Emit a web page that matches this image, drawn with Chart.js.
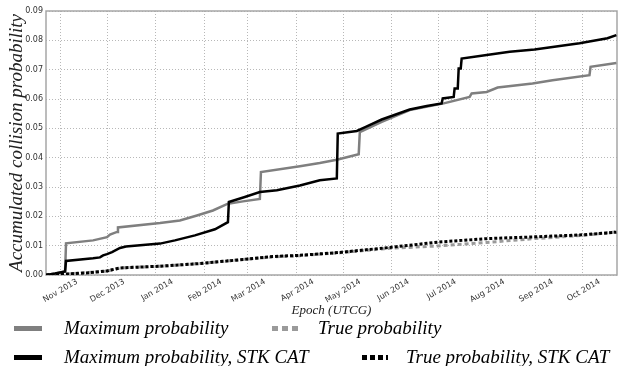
<!DOCTYPE html>
<html>
<head>
<meta charset="utf-8">
<script src="https://cdn.jsdelivr.net/npm/chart.js@4.4.0/dist/chart.umd.min.js"></script>
<style>
    html, body { margin: 0; padding: 0; background: #fff; }
    #wrap { position: relative; width: 625px; height: 366px; }
    #legend {
        position: absolute; left: 0; top: 0; width: 625px; height: 366px;
        font-family: "Liberation Serif", serif; font-style: italic; font-size: 19px; color: #000;
    }
    .label { position: absolute; white-space: nowrap; line-height: 20px; }
    .swatch { position: absolute; height: 5px; }
</style>
</head>
<body>
<div id="wrap">
    <canvas id="probChart" width="625" height="366"></canvas>
    <div id="legend">
        <span class="swatch" style="left:14px;top:326px;width:28px;background:#7f7f7f"></span>
        <span class="label" style="left:64px;top:318px">Maximum probability</span>
        <span class="swatch" style="left:272px;top:326px;width:26px;background:repeating-linear-gradient(90deg,#9a9a9a 0 6px,transparent 6px 10px)"></span>
        <span class="label" style="left:318px;top:318px">True probability</span>
        <span class="swatch" style="left:14px;top:355px;width:28px;background:#000"></span>
        <span class="label" style="left:64px;top:347px">Maximum probability, STK CAT</span>
        <span class="swatch" style="left:362px;top:355px;width:26px;background:repeating-linear-gradient(90deg,#000 0 5px,transparent 5px 8px)"></span>
        <span class="label" style="left:406px;top:347px">True probability, STK CAT</span>
    </div>
</div>
<script>
// x values are days counted from 1 Nov 2013
const tickDays = [0, 30, 61, 92, 120, 151, 181, 212, 242, 273, 304, 334];
const tickLabels = ['Nov 2013', 'Dec 2013', 'Jan 2014', 'Feb 2014', 'Mar 2014', 'Apr 2014',
    'May 2014', 'Jun 2014', 'Jul 2014', 'Aug 2014', 'Sep 2014', 'Oct 2014'];

// Maximum probability
const maxDays = [-9, -3.2, 3.2, 3.8, 21.1, 30.0, 31.9, 36.4, 37.0, 63.9, 76.6, 87.5, 97.7, 107.3,
    116.9, 127.7, 128.4, 153.3, 166.0, 176.9, 190.9, 191.6, 205.6, 223.5, 245.2, 261.8, 263.1,
    272.7, 279.7, 302.0, 314.8, 338.4, 339.1, 355.6];
const maxVals = [0, 0.0005, 0.0012, 0.0108, 0.0118, 0.0129, 0.0138, 0.0147, 0.0162, 0.0177, 0.0186,
    0.0203, 0.022, 0.0243, 0.0251, 0.0259, 0.0351, 0.0371, 0.0382, 0.0393, 0.0412, 0.0487, 0.0522,
    0.0562, 0.0585, 0.0607, 0.0619, 0.0624, 0.0639, 0.0653, 0.0664, 0.0681, 0.071, 0.0723];

// Maximum probability, STK CAT
const catMaxDays = [-9, -3.2, 3.2, 3.8, 21.1, 25.5, 27.5, 30.0, 33.2, 38.3, 42.1, 63.9, 73.4, 86.2,
    99.0, 107.3, 107.9, 118.1, 127.7, 138.6, 153.3, 166.0, 176.9, 177.5, 189.7, 195.4, 205.6, 223.5,
    234.4, 243.9, 244.6, 251.6, 252.2, 254.2, 254.8, 256.1, 256.7, 272.7, 287.4, 303.3, 332.1, 349.9, 355.6];
const catMaxVals = [0, 0.0005, 0.0012, 0.0048, 0.0057, 0.006, 0.0067, 0.0071, 0.0078, 0.0092, 0.0097,
    0.0107, 0.0118, 0.0135, 0.0156, 0.018, 0.0249, 0.0266, 0.0283, 0.0289, 0.0305, 0.0323, 0.0329,
    0.0482, 0.0491, 0.0505, 0.053, 0.0564, 0.0576, 0.0585, 0.0602, 0.0607, 0.0636, 0.0636, 0.0704,
    0.0704, 0.0738, 0.075, 0.0761, 0.0769, 0.079, 0.0807, 0.0818];

// True probability
const trueDays = [-9, 3.2, 30.0, 38.3, 63.9, 89.4, 114.9, 136.0, 153.3, 178.8, 210.7, 241.4, 272.7,
    303.3, 334.0, 355.6];
const trueVals = [0, 0.0003, 0.0013, 0.0024, 0.003, 0.0039, 0.0052, 0.0062, 0.0066, 0.0076, 0.0091,
    0.0099, 0.0111, 0.0124, 0.0135, 0.0147];

// True probability, STK CAT
const catTrueDays = [-9, 3.2, 19.2, 30.0, 38.3, 63.9, 89.4, 114.9, 136.0, 153.3, 178.8, 210.7, 241.4,
    272.7, 303.3, 334.0, 355.6];
const catTrueVals = [0, 0.0003, 0.0008, 0.0014, 0.0024, 0.003, 0.0039, 0.0052, 0.0063, 0.0067, 0.0077,
    0.0094, 0.0112, 0.0124, 0.013, 0.0137, 0.0146];

const tickFont = { family: 'DejaVu Sans', size: 8 };
const gridColor = '#b8b8b8';

document.addEventListener('DOMContentLoaded', function () {
    drawChart();
});

/**
 * Pair day and value arrays into points
 */
function toPoints(days, vals) {
    return days.map((d, i) => ({ x: d, y: vals[i] }));
}

/**
 * Light grey box round the plot area
 */
const framePlugin = {
    id: 'frame',
    beforeDatasetsDraw(chart) {
        const { ctx, chartArea: a } = chart;
        ctx.save();
        ctx.strokeStyle = '#a6a6a6';
        ctx.lineWidth = 1.5;
        ctx.strokeRect(a.left, a.top, a.right - a.left, a.bottom - a.top);
        ctx.restore();
    }
};

function drawChart() {
    const ctx = document.getElementById('probChart').getContext('2d');
    new Chart(ctx, {
        type: 'line',
        data: {
            datasets: [
                {
                    label: 'Maximum probability',
                    data: toPoints(maxDays, maxVals),
                    borderColor: '#7f7f7f',
                    borderWidth: 2.5,
                    order: 2
                },
                {
                    label: 'True probability',
                    data: toPoints(trueDays, trueVals),
                    borderColor: '#9a9a9a',
                    borderWidth: 3,
                    borderDash: [4, 3],
                    order: 2
                },
                {
                    label: 'Maximum probability, STK CAT',
                    data: toPoints(catMaxDays, catMaxVals),
                    borderColor: '#000',
                    borderWidth: 2.5,
                    order: 1
                },
                {
                    label: 'True probability, STK CAT',
                    data: toPoints(catTrueDays, catTrueVals),
                    borderColor: '#000',
                    borderWidth: 3,
                    borderDash: [3, 2],
                    order: 1
                }
            ]
        },
        options: {
            responsive: false,
            animation: false,
            elements: {
                point: { radius: 0 },
                line: { tension: 0, fill: false }
            },
            layout: {
                padding: { top: 11, right: 8, bottom: 48, left: 0 }
            },
            plugins: {
                legend: { display: false },
                tooltip: { enabled: false }
            },
            scales: {
                x: {
                    type: 'linear',
                    min: -9,
                    max: 356,
                    afterBuildTicks: (scale) => {
                        scale.ticks = tickDays.map(v => ({ value: v }));
                    },
                    afterFit: (scale) => { scale.height = 43; },
                    ticks: {
                        autoSkip: false,
                        minRotation: 30,
                        maxRotation: 30,
                        padding: 2,
                        labelOffset: 17,
                        font: tickFont,
                        color: '#333',
                        callback: (value, index) => tickLabels[index]
                    },
                    grid: { color: gridColor, drawTicks: false },
                    border: { display: false, dash: [1, 2] },
                    title: {
                        display: true,
                        text: 'Epoch (UTCG)',
                        color: '#222',
                        padding: 0,
                        font: { family: 'Liberation Serif', style: 'italic', size: 13 }
                    }
                },
                y: {
                    min: 0,
                    max: 0.09,
                    afterFit: (scale) => { scale.width = 46; },
                    ticks: {
                        stepSize: 0.01,
                        padding: 3,
                        font: tickFont,
                        color: '#333',
                        callback: (value) => value.toFixed(2)
                    },
                    grid: { color: gridColor, drawTicks: false },
                    border: { display: false, dash: [1, 2] },
                    title: {
                        display: true,
                        text: 'Accumulated collision probability',
                        color: '#222',
                        padding: { top: 6, bottom: 0 },
                        font: { family: 'Liberation Serif', style: 'italic', size: 19 }
                    }
                }
            }
        },
        plugins: [framePlugin]
    });
}
</script>
</body>
</html>
